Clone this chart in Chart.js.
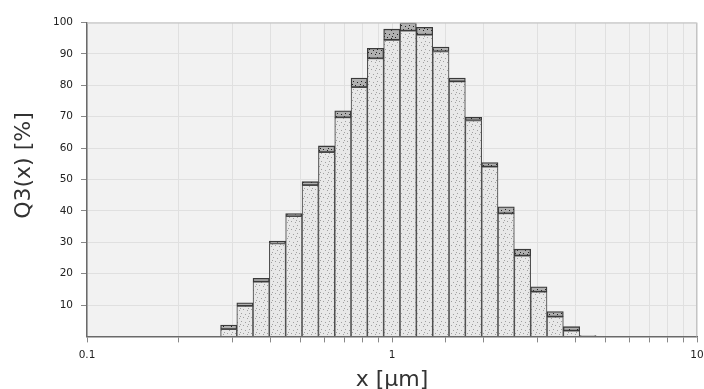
<!DOCTYPE html>
<html>
<head>
<meta charset="utf-8">
<script src="https://cdn.jsdelivr.net/npm/chart.js@4/dist/chart.umd.min.js"></script>
<style>
  html, body { margin: 0; padding: 0; background: #fff; }
  #wrap { width: 704px; height: 389px; }
</style>
</head>
<body>
<div id="wrap"><canvas id="chart" width="704" height="389"></canvas></div>
<script>
// bin edges in µm (log spaced)
const binEdges = [0.274, 0.310, 0.350, 0.396, 0.448, 0.507, 0.574, 0.649, 0.734, 0.830,
  0.939, 1.062, 1.202, 1.360, 1.538, 1.740, 1.968, 2.226, 2.518, 2.850, 3.223, 3.645, 4.126, 4.667];
// lower / upper value of each bar (the dark band sits between them)
const q3Low = [2.3, 9.7, 17.4, 29.6, 38.3, 48.2, 58.7, 69.8, 79.4, 88.6, 94.5, 97.4,
  96.1, 90.8, 81.2, 68.8, 54.1, 39.2, 25.7, 14.2, 6.3, 1.8, 0];
const q3High = [3.6, 10.7, 18.5, 30.4, 39.1, 49.3, 60.7, 71.9, 82.3, 91.8, 97.9, 99.9,
  98.5, 92.2, 82.3, 69.8, 55.4, 41.3, 27.8, 15.8, 7.9, 3.1, 0.3];
const xLabels = [0.1, 1, 10];
const yMin = 0, yMax = 100, yStep = 10;

const canvas = document.getElementById("chart");
const ctx = canvas.getContext("2d");

// stippled fill like the original
function stipple(bg, dot) {
  const t = document.createElement("canvas");
  t.width = 8; t.height = 8;
  const g = t.getContext("2d");
  g.fillStyle = bg;
  g.fillRect(0, 0, 8, 8);
  g.fillStyle = dot;
  [[1, 1], [5, 2], [3, 5], [7, 6], [0, 4]].forEach(p => g.fillRect(p[0], p[1], 1, 1));
  return ctx.createPattern(t, "repeat");
}
const baseFill = stipple("#e8e8e8", "#a0a0a0");
const bandFill = stipple("#b0b0b0", "#222");

const centers = binEdges.slice(0, -1).map((e, i) => Math.sqrt(e * binEdges[i + 1]));

const plotFrame = {
  id: "plotFrame",
  beforeDraw(chart) {
    const a = chart.chartArea, c = chart.ctx;
    c.save();
    c.fillStyle = "#f2f2f2";
    c.fillRect(a.left, a.top, a.right - a.left, a.bottom - a.top);
    c.restore();
  },
  afterDraw(chart) {
    const a = chart.chartArea, c = chart.ctx;
    c.save();
    c.strokeStyle = "#c4c4c4";
    c.lineWidth = 1;
    c.beginPath();
    c.moveTo(a.left, a.top + 0.5);
    c.lineTo(a.right - 0.5, a.top + 0.5);
    c.lineTo(a.right - 0.5, a.bottom);
    c.stroke();
    c.restore();
  }
};

const isDecade = v => Math.abs(Math.log10(v) - Math.round(Math.log10(v))) < 1e-6;

new Chart(ctx, {
  type: "bar",
  data: {
    datasets: [
      {
        label: "band",
        data: centers.map((x, i) => ({ x: x, y: [q3Low[i], q3High[i]] })),
        backgroundColor: bandFill,
        borderColor: "#3a3a3a",
        borderWidth: 1.3,
        borderSkipped: false,
        barThickness: "flex",
        barPercentage: 1,
        categoryPercentage: 1
      },
      {
        label: "Q3",
        data: centers.map((x, i) => ({ x: x, y: q3Low[i] })),
        backgroundColor: baseFill,
        borderColor: "#505050",
        borderWidth: 1.1,
        barThickness: "flex",
        barPercentage: 1,
        categoryPercentage: 1
      }
    ]
  },
  options: {
    responsive: false,
    animation: false,
    layout: { padding: { left: 0, right: 7, top: 22.6, bottom: 0 } },
    plugins: { legend: { display: false }, tooltip: { enabled: false } },
    scales: {
      x: {
        type: "logarithmic",
        min: 0.1,
        max: 10,
        offset: false,
        stacked: true,
        afterFit: s => { s.height = 52.6; s.paddingLeft = 0; s.paddingRight = 0; },
        border: { color: "#6a6a6a", width: 1.5 },
        grid: { offset: false, color: "#e0e0e0", tickColor: "#888", tickLength: 6 },
        ticks: {
          autoSkip: false,
          maxRotation: 0,
          padding: 7,
          color: "#222",
          font: { family: "DejaVu Sans", size: 10.5 },
          callback: v => (isDecade(v) && xLabels.includes(Math.round(v * 10) / 10)) ? String(Math.round(v * 10) / 10) : ""
        },
        title: {
          display: true,
          text: "x [µm]",
          color: "#333",
          padding: { top: 0, bottom: -2 },
          font: { family: "DejaVu Sans", size: 22, lineHeight: 1 }
        }
      },
      y: {
        min: yMin,
        max: yMax,
        afterFit: s => { s.width = 87; },
        border: { color: "#6a6a6a", width: 1.5 },
        grid: {
          color: "#e0e0e0",
          tickColor: c => (c.tick && c.tick.value === 0) ? "rgba(0,0,0,0)" : "#888",
          tickLength: 6
        },
        ticks: {
          stepSize: yStep,
          padding: 8,
          color: "#222",
          font: { family: "DejaVu Sans", size: 10.5 },
          callback: v => v === 0 ? "" : String(v)
        },
        title: {
          display: true,
          text: "    Q3(x) [%]",
          color: "#333",
          padding: { top: 13, bottom: 0 },
          font: { family: "DejaVu Sans", size: 22, lineHeight: 1 }
        }
      }
    }
  },
  plugins: [plotFrame]
});
</script>
</body>
</html>
